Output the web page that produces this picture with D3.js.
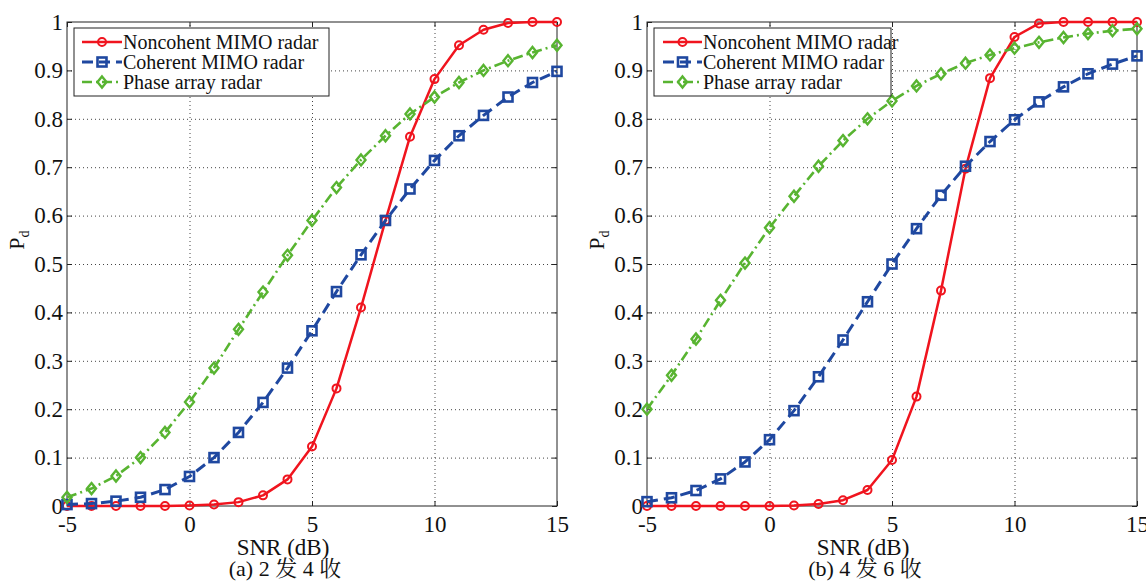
<!DOCTYPE html>
<html>
<head>
<meta charset="utf-8">
<script src="https://cdn.jsdelivr.net/npm/d3@7"></script>
<style>
  body { margin: 0; background: #fff; }
  svg { display: block; }
</style>
</head>
<body>
<svg id="chart" width="1146" height="581"></svg>
<script>
// data
var snr = [-5, -4, -3, -2, -1, 0, 1, 2, 3, 4, 5, 6, 7, 8, 9, 10, 11, 12, 13, 14, 15];

// (a) 2 tx / 4 rx
var leftNoncoherent = [0, 0, 0, 0, 0, 0.001, 0.003, 0.008, 0.022, 0.055, 0.123, 0.243, 0.41, 0.59, 0.763, 0.882, 0.952, 0.984, 0.998, 1, 1];
var leftCoherent = [0.003, 0.005, 0.01, 0.018, 0.034, 0.061, 0.1, 0.152, 0.214, 0.285, 0.362, 0.443, 0.519, 0.59, 0.655, 0.714, 0.765, 0.807, 0.845, 0.875, 0.898];
var leftPhased = [0.018, 0.036, 0.062, 0.1, 0.152, 0.215, 0.285, 0.365, 0.442, 0.518, 0.59, 0.658, 0.715, 0.765, 0.81, 0.845, 0.875, 0.9, 0.92, 0.937, 0.952];

// (b) 4 tx / 6 rx
var rightNoncoherent = [0, 0, 0, 0, 0, 0, 0.001, 0.004, 0.012, 0.033, 0.095, 0.226, 0.445, 0.697, 0.884, 0.969, 0.997, 1, 1, 1, 1];
var rightCoherent = [0.009, 0.017, 0.032, 0.056, 0.091, 0.137, 0.197, 0.267, 0.343, 0.422, 0.5, 0.573, 0.642, 0.702, 0.753, 0.798, 0.835, 0.866, 0.893, 0.913, 0.93];
var rightPhased = [0.2, 0.27, 0.345, 0.425, 0.502, 0.575, 0.64, 0.702, 0.755, 0.8, 0.837, 0.868, 0.893, 0.915, 0.932, 0.946, 0.958, 0.968, 0.976, 0.982, 0.986];

var seriesNames = ["Noncohent MIMO radar", "Coherent MIMO radar", "Phase array radar"];
var xTicks = [-5, 0, 5, 10, 15];
var yTicks = [0, 0.1, 0.2, 0.3, 0.4, 0.5, 0.6, 0.7, 0.8, 0.9, 1];
var captions = ["(a) 2 发 4 收", "(b) 4 发 6 收"];

// styles
var FONT = "'Liberation Serif', 'Noto Serif CJK SC', serif";
var styles = [
  { color: "#f0141e", width: 2.5, dash: null, marker: "circle" },
  { color: "#1f48a0", width: 3, dash: "11,6", marker: "square" },
  { color: "#58b431", width: 2.6, dash: "10,4,2,4", marker: "diamond" }
];

var svg = d3.select("#chart");
var W = 490, H = 484;

function drawMarker(g, type, color, x, y) {
  if (type === "circle") {
    g.append("circle").attr("cx", x).attr("cy", y).attr("r", 4)
      .attr("fill", "none").attr("stroke", color).attr("stroke-width", 2);
  } else if (type === "square") {
    g.append("rect").attr("x", x - 4.5).attr("y", y - 4.5).attr("width", 9).attr("height", 9)
      .attr("fill", "none").attr("stroke", color).attr("stroke-width", 2.6);
  } else {
    g.append("path").attr("d", "M" + x + "," + (y - 5.5) + "L" + (x + 4.5) + "," + y + "L" + x + "," + (y + 5.5) + "L" + (x - 4.5) + "," + y + "Z")
      .attr("fill", "none").attr("stroke", color).attr("stroke-width", 2.4);
  }
}

function panel(x0, series, caption, legendBox) {
  var g = svg.append("g").attr("transform", "translate(" + x0 + ",22)");
  var x = d3.scaleLinear().domain([-5, 15]).range([0, W]);
  var y = d3.scaleLinear().domain([0, 1]).range([H, 0]);

  // dotted grid
  g.append("g").attr("transform", "translate(0," + H + ")")
    .call(d3.axisBottom(x).tickValues(xTicks.slice(1, -1)).tickSize(-H).tickFormat(""))
    .call(function(a) { a.select(".domain").remove(); });
  g.append("g")
    .call(d3.axisLeft(y).tickValues(yTicks.slice(1, -1)).tickSize(-W).tickFormat(""))
    .call(function(a) { a.select(".domain").remove(); });
  g.selectAll(".tick line").attr("stroke", "#444").attr("stroke-width", 1).attr("stroke-dasharray", "1,3");

  // box
  g.append("rect").attr("width", W).attr("height", H).attr("fill", "none").attr("stroke", "#222").attr("stroke-width", 1);

  // axes with inward ticks
  g.append("g").attr("class", "ax").attr("transform", "translate(0," + H + ")")
    .call(d3.axisBottom(x).tickValues(xTicks).tickSizeInner(-5).tickSizeOuter(0).tickPadding(10).tickFormat(function(d) { return String(d); }));
  g.append("g").attr("class", "ax")
    .call(d3.axisTop(x).tickValues(xTicks).tickSizeInner(-5).tickSizeOuter(0).tickFormat(""));
  g.append("g").attr("class", "ax")
    .call(d3.axisLeft(y).tickValues(yTicks).tickSizeInner(-5).tickSizeOuter(0).tickPadding(4).tickFormat(function(d) { return String(d); }));
  g.append("g").attr("class", "ax").attr("transform", "translate(" + W + ",0)")
    .call(d3.axisRight(y).tickValues(yTicks).tickSizeInner(-5).tickSizeOuter(0).tickFormat(""));
  g.selectAll(".ax .domain").remove();
  g.selectAll(".ax .tick line").attr("stroke", "#222");
  g.selectAll(".ax text").attr("font-size", 23).attr("fill", "#111").style("font-family", FONT);

  // series
  var line = d3.line().x(function(d, i) { return x(snr[i]); }).y(function(d) { return y(d); });
  series.forEach(function(vals, k) {
    var s = styles[k];
    var sg = g.append("g");
    sg.append("path").attr("d", line(vals)).attr("fill", "none")
      .attr("stroke", s.color).attr("stroke-width", s.width)
      .attr("stroke-dasharray", s.dash).attr("stroke-linejoin", "round");
    vals.forEach(function(v, i) { drawMarker(sg, s.marker, s.color, x(snr[i]), y(v)); });
  });

  // legend
  var lg = svg.append("g").attr("transform", "translate(" + legendBox.x + ",28)");
  lg.append("rect").attr("width", legendBox.w).attr("height", 68).attr("fill", "#fff").attr("stroke", "#222").attr("stroke-width", 1);
  seriesNames.forEach(function(name, k) {
    var s = styles[k];
    var ly = 14 + k * 20;
    lg.append("line").attr("x1", legendBox.lx1).attr("x2", legendBox.lx2).attr("y1", ly).attr("y2", ly)
      .attr("stroke", s.color).attr("stroke-width", s.width).attr("stroke-dasharray", s.dash);
    drawMarker(lg, s.marker, s.color, (legendBox.lx1 + legendBox.lx2) / 2, ly);
    lg.append("text").attr("x", legendBox.tx).attr("y", ly + 7).attr("font-size", 20).attr("fill", "#111")
      .style("font-family", FONT).text(name);
  });

  // labels
  svg.append("text").attr("x", x0 + W / 2 - 29).attr("y", 555).attr("text-anchor", "middle")
    .attr("font-size", 23).attr("fill", "#111").style("font-family", FONT).text("SNR (dB)");
  var pl = svg.append("text").attr("transform", "translate(" + (x0 - 43) + ",240) rotate(-90)")
    .attr("text-anchor", "middle").attr("font-size", 22).attr("fill", "#111").style("font-family", FONT);
  pl.append("tspan").text("P");
  pl.append("tspan").attr("font-size", 14).attr("dy", 5).text("d");
  svg.append("text").attr("x", x0 + W / 2 - 27).attr("y", 576).attr("text-anchor", "middle")
    .attr("font-size", 22).attr("fill", "#111").style("font-family", FONT).text(caption);
}

panel(67, [leftNoncoherent, leftCoherent, leftPhased], captions[0], { x: 74, w: 255, lx1: 8, lx2: 48, tx: 49 });
panel(647, [rightNoncoherent, rightCoherent, rightPhased], captions[1], { x: 654, w: 237, lx1: 9, lx2: 48, tx: 49 });
</script>
</body>
</html>
